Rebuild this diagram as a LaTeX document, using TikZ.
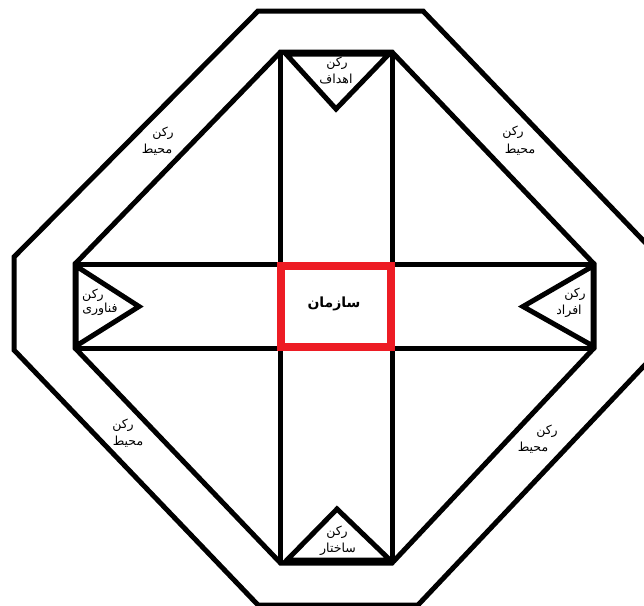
\documentclass[tikz,border=0pt]{standalone}
\usepackage{fontspec}
\newfontfamily\arabicfont[Script=Arabic]{DejaVu Sans}
\TeXXeTstate=1
\definecolor{boxred}{RGB}{237,28,36}
\newcommand{\fa}[1]{{\arabicfont\beginR #1\endR}}
\begin{document}
\begin{tikzpicture}[x=1pt,y=-1pt,
  blk/.style={draw=black,line width=5pt,line join=miter},
  redbox/.style={draw=boxred,line width=8pt,line join=miter},
  lbl/.style={inner sep=0pt,font=\fontsize{12.5}{14}\selectfont},
  bold/.style={inner sep=0pt,font=\fontsize{14}{16}\bfseries}]
\useasboundingbox (0,0) rectangle (644,605);
\clip (0,0) rectangle (644,605);
% outer octagon
\draw[blk] (258,11) -- (423,11) -- (659,257) -- (659,350) -- (418,605) -- (258,605) -- (14,350) -- (14,257) -- cycle;
% inner octagon
\draw[blk] (280.5,52) -- (392,52) -- (594,264) -- (594,348) -- (392,563) -- (280.5,563) -- (75,348) -- (75,264) -- cycle;
% cross bars
\draw[blk] (280.5,52) -- (280.5,563);
\draw[blk] (392,52) -- (392,563);
\draw[blk] (75,264) -- (594,264);
\draw[blk] (75,348) -- (594,348);
% triangles
\draw[blk] (286,54) -- (389,54) -- (336,109) -- cycle;
\draw[blk] (287,560) -- (390,560) -- (337,509) -- cycle;
\draw[blk] (76,266) -- (139,306.5) -- (76,346) -- cycle;
\draw[blk] (593,266) -- (523,306.5) -- (593,346) -- cycle;
% center box
\draw[redbox] (280.5,265.5) rectangle (390.5,346.5);
\node[bold] (org) at (334,304) {\fa{سازمان}};
% triangle labels
\node[lbl] (t1) at (337,63) {\fa{رکن}};
\node[lbl] (t2) at (336,79) {\fa{اهداف}};
\node[lbl] (b1) at (337,532) {\fa{رکن}};
\node[lbl] (b2) at (338,549) {\fa{ساختار}};
\node[lbl] (l1) at (93,295) {\fa{رکن}};
\node[lbl] (l2) at (100,309) {\fa{فناوری}};
\node[lbl] (r1) at (575,294) {\fa{رکن}};
\node[lbl] (r2) at (569,311) {\fa{افراد}};
% perimeter labels
\node[lbl] (p1a) at (163,133) {\fa{رکن}};
\node[lbl] (p1b) at (157,150) {\fa{محیط}};
\node[lbl] (p2a) at (513,132) {\fa{رکن}};
\node[lbl] (p2b) at (520,150) {\fa{محیط}};
\node[lbl] (p3a) at (123,425) {\fa{رکن}};
\node[lbl] (p3b) at (128,442) {\fa{محیط}};
\node[lbl] (p4a) at (547,431) {\fa{رکن}};
\node[lbl] (p4b) at (533,448) {\fa{محیط}};
\end{tikzpicture}
\end{document}
